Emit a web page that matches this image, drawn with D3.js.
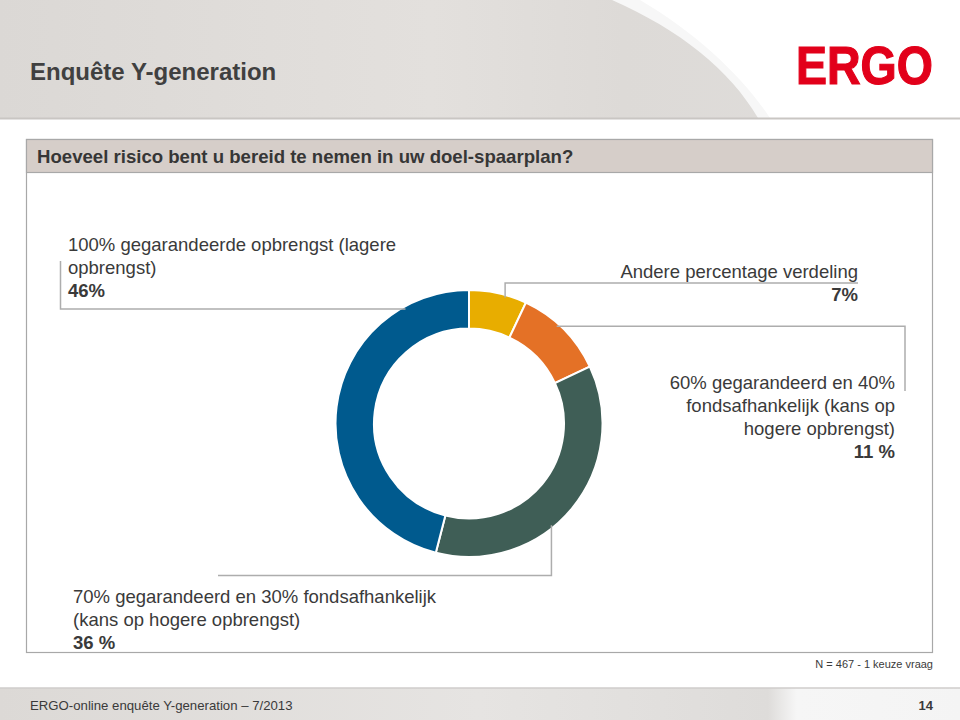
<!DOCTYPE html>
<html><head><meta charset="utf-8">
<script src="https://cdn.jsdelivr.net/npm/d3@7"></script>
<style>
html,body{margin:0;padding:0;background:#fff;}
svg{display:block;font-family:"Liberation Sans",Arial,Helvetica,sans-serif;}
</style></head>
<body>
<svg id="chart" width="960" height="720"></svg>
<script>
// ---- data ----
const categories = [
  "Andere percentage verdeling",
  "60% gegarandeerd en 40% fondsafhankelijk (kans op hogere opbrengst)",
  "70% gegarandeerd en 30% fondsafhankelijk (kans op hogere opbrengst)",
  "100% gegarandeerde opbrengst (lagere opbrengst)"
];
const values = [7, 11, 36, 46];
const valueLabels = ["7%", "11 %", "36 %", "46%"];
const colors = ["#E8AD00", "#E47126", "#3F5E56", "#005A8E"];
const labelLines = [
  ["Andere percentage verdeling"],
  ["60% gegarandeerd en 40%", "fondsafhankelijk (kans op", "hogere opbrengst)"],
  ["70% gegarandeerd en 30% fondsafhankelijk", "(kans op hogere opbrengst)"],
  ["100% gegarandeerde opbrengst (lagere", "opbrengst)"]
];
const title = "Enquête Y-generation";
const question = "Hoeveel risico bent u bereid te nemen in uw doel-spaarplan?";
const note = "N = 467 - 1 keuze vraag";
const footer = "ERGO-online enquête Y-generation – 7/2013";
const pageNo = "14";

const svg = d3.select("#chart");
const W = 960, H = 720;
const txt = "#3a3a3a";

// ---- page background: header band ----
const defs = svg.append("defs");
const hg = defs.append("linearGradient").attr("id","hg").attr("x1","0").attr("x2","1").attr("y1","0").attr("y2","0");
hg.append("stop").attr("offset","0").attr("stop-color","#dbd8d5");
hg.append("stop").attr("offset","0.45").attr("stop-color","#e3e0dd");
hg.append("stop").attr("offset","0.65").attr("stop-color","#dddad7");
hg.append("stop").attr("offset","1").attr("stop-color","#e0dedc");
svg.append("rect").attr("x",0).attr("y",0).attr("width",W).attr("height",118).attr("fill","url(#hg)");
svg.append("path").attr("d","M612,0 C680,30 730,70 758,118 L960,118 L960,0 Z").attr("fill","#f7f7f7");
svg.append("path").attr("d","M640,0 C700,35 745,80 770,118 L960,118 L960,0 Z").attr("fill","#ffffff");
svg.append("line").attr("x1",0).attr("x2",W).attr("y1",118.5).attr("y2",118.5).attr("stroke","#c9c6c3").attr("stroke-width",2);

svg.append("text").attr("x",30).attr("y",80).attr("font-size",24).attr("font-weight","bold")
  .attr("fill","#404040").text(title);
svg.append("text").attr("x",933).attr("y",84).attr("text-anchor","end").attr("font-size",54)
  .attr("font-weight","bold").attr("fill","#E2001A").attr("stroke","#E2001A").attr("stroke-width",1.2)
  .attr("textLength",137).attr("lengthAdjust","spacingAndGlyphs").text("ERGO");

// ---- footer band ----
const fg = defs.append("linearGradient").attr("id","fg").attr("x1","0").attr("x2","1");
fg.append("stop").attr("offset","0").attr("stop-color","#dcd9d6");
fg.append("stop").attr("offset","0.5").attr("stop-color","#e6e4e2");
fg.append("stop").attr("offset","0.8").attr("stop-color","#dedcda");
fg.append("stop").attr("offset","0.83").attr("stop-color","#f6f6f6");
fg.append("stop").attr("offset","1").attr("stop-color","#f4f4f4");
svg.append("rect").attr("x",0).attr("y",688).attr("width",W).attr("height",32).attr("fill","url(#fg)");
svg.append("line").attr("x1",0).attr("x2",W).attr("y1",688).attr("y2",688).attr("stroke","#cfcdcb").attr("stroke-width",1.5);
svg.append("text").attr("x",30).attr("y",710).attr("font-size",13.2).attr("fill",txt).text(footer);
svg.append("text").attr("x",933).attr("y",710).attr("text-anchor","end").attr("font-size",13).attr("font-weight","bold").attr("fill",txt).text(pageNo);

// ---- content frame ----
svg.append("rect").attr("x",26.5).attr("y",139.5).attr("width",906).attr("height",513).attr("fill","#fff").attr("stroke","#a8a8a8").attr("stroke-width",1.2);
svg.append("rect").attr("x",26.5).attr("y",139.5).attr("width",906).attr("height",33).attr("fill","#d6cec9").attr("stroke","#a8a8a8").attr("stroke-width",1.2);
svg.append("text").attr("x",37).attr("y",163).attr("font-size",18.6).attr("font-weight","bold").attr("fill","#363636").text(question);
svg.append("text").attr("x",933).attr("y",668).attr("text-anchor","end").attr("font-size",11).attr("fill",txt).text(note);

// ---- donut ----
const cx = 469, cy = 423.5, rOuter = 133.5, rInner = 95;
const g = svg.append("g").attr("transform",`translate(${cx},${cy})`);
const pie = d3.pie().sort(null).value(d => d);
const arcs = pie(values);
const arc = d3.arc().innerRadius(rInner).outerRadius(rOuter);
g.selectAll("path.slice").data(arcs).enter().append("path").attr("class","slice")
  .attr("d",arc).attr("fill",(d,i)=>colors[i]).attr("stroke","#fff").attr("stroke-width",2);

// ---- leader lines (anchor on ring, then elbow to label) ----
const anchorAngles = [16, 42, 141, 331]; // degrees clockwise from top
const anchorR = 131;
const pt = a => { const t = a*Math.PI/180; return [cx + anchorR*Math.sin(t), cy - anchorR*Math.cos(t)]; };
const lineGen = d3.line();
const leaders = [
  (p)=>[p,[p[0],283],[858,283]],
  (p)=>[p,[905,p[1]],[905,391]],
  (p)=>[p,[p[0],575.5],[218,575.5]],
  (p)=>[p,[60.5,p[1]],[60.5,261]]
];
leaders.forEach((f,i)=>{
  svg.append("path").attr("d",lineGen(f(pt(anchorAngles[i])))).attr("fill","none")
    .attr("stroke","#adadad").attr("stroke-width",1.5);
});

// ---- labels ----
const fs = 18.5, lh = 23;
function label(x, y, anchor, lines, val){
  const t = svg.append("text").attr("font-size",fs).attr("fill",txt).attr("text-anchor",anchor);
  lines.forEach((l,k)=>t.append("tspan").attr("x",x).attr("y",y+k*lh).text(l));
  t.append("tspan").attr("x",x).attr("y",y+lines.length*lh).attr("font-weight","bold").text(val);
}
label(858, 278, "end", labelLines[0], valueLabels[0]);
label(895, 389, "end", labelLines[1], valueLabels[1]);
label(73, 603, "start", labelLines[2], valueLabels[2]);
label(68, 251, "start", labelLines[3], valueLabels[3]);
</script>
</body></html>
